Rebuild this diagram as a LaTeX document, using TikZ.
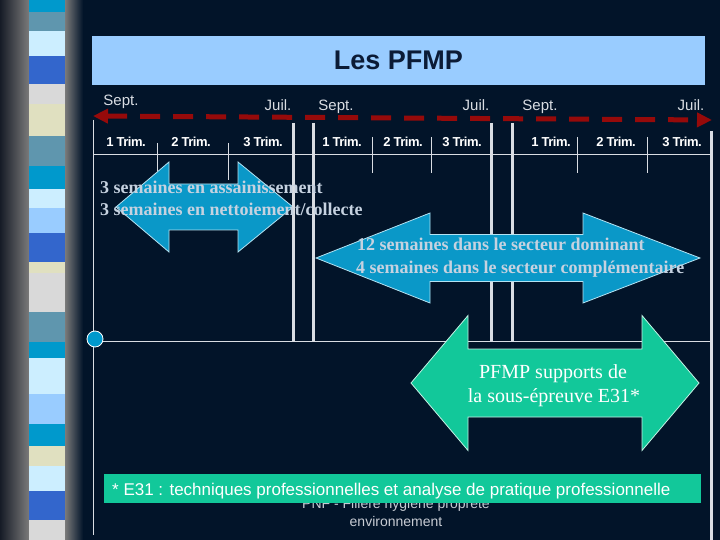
\documentclass[tikz,border=0pt]{standalone}
\usepackage{fontspec}
\setmainfont{Liberation Sans}
\newfontfamily\timesfnt{Liberation Serif}
\newfontfamily\trimfnt[LetterSpace=-4]{Liberation Sans}
\usepackage{tikz}
\usetikzlibrary{arrows.meta,positioning,calc}
\definecolor{bgN}{HTML}{021429}
\definecolor{sideD}{HTML}{161B26}
\definecolor{sideG}{HTML}{7A7A7A}
\definecolor{stA}{HTML}{0099CC}
\definecolor{stB}{HTML}{5F96AE}
\definecolor{stC}{HTML}{CCEEFF}
\definecolor{stD}{HTML}{3366CC}
\definecolor{stE}{HTML}{D9D9D9}
\definecolor{stF}{HTML}{E0E0C0}
\definecolor{stG}{HTML}{99CCFF}
\definecolor{titleC}{HTML}{99CCFF}
\definecolor{titleT}{HTML}{0B1B36}
\definecolor{redD}{HTML}{960A0A}
\definecolor{lineC}{HTML}{D9DDE3}
\definecolor{blueA}{HTML}{0A98C8}
\definecolor{blueO}{HTML}{B4E2F2}
\definecolor{greenA}{HTML}{12C89A}
\definecolor{greenO}{HTML}{C4F2E4}
\definecolor{weekC}{HTML}{C6D2E0}
\definecolor{footC}{HTML}{C8CCD4}
\newcommand\dblarrow[8]{% tipL, headL, headR, tipR, ymid, half shaft, half head, colour
  \filldraw[fill=#8A,draw=#8O,line width=0.8pt]
    (#1,#5) -- (#2,#5-#7) -- (#2,#5-#6) -- (#3,#5-#6) -- (#3,#5-#7) -- (#4,#5)
    -- (#3,#5+#7) -- (#3,#5+#6) -- (#2,#5+#6) -- (#2,#5+#7) -- cycle;}

\begin{document}
\begin{tikzpicture}[x=1pt,y=-1pt,every node/.style={inner sep=0pt},
  month/.style={font=\fontsize{15}{18}\selectfont,text=lineC,anchor=base},
  trim/.style={font=\trimfnt\bfseries\fontsize{13}{15}\selectfont,text=white,anchor=base},
  thinline/.style={lineC,line width=1pt},
  thickline/.style={lineC,line width=3pt},
  weeks/.style={font=\timesfnt\bfseries\fontsize{18}{21}\selectfont,text=weekC,anchor=base west},
  epreuve/.style={font=\timesfnt\fontsize{20}{24}\selectfont,text=white,anchor=base}]
  \fill[bgN] (0,0) rectangle (720,540);
  \useasboundingbox (0,0) rectangle (720,540);
  % left band
  \shade[left color=sideD,right color=sideG] (0,0) rectangle (29,540);
  \shade[left color=sideG,right color=bgN] (65,0) rectangle (83,540);
  \foreach \a/\b/\c in {0/12/stA,12/31/stB,31/56/stC,56/84/stD,84/104/stE,104/136/stF,
      136/166/stB,166/189/stA,189/208/stC,208/233/stG,233/262/stD,262/273/stF,
      273/312/stE,312/342/stB,342/358/stA,358/394/stC,394/424/stG,424/446/stA,
      446/466/stF,466/491/stC,491/520/stD,520/540/stE}{
    \fill[\c] (29,\a) rectangle (65,\b);
  }
  % title
  \node[fill=titleC,minimum width=613pt,minimum height=49pt,text=titleT,
    font=\bfseries\fontsize{27}{32}\selectfont] (title) at (398.5,60.5) {Les PFMP};
  % school years
  \coordinate (yL) at (93,116);
  \coordinate (yR) at (712,120);
  \draw[redD,line width=5pt,dash pattern=on 20pt off 13pt,
    {Triangle[length=15pt,width=14pt]}-{Triangle[length=15pt,width=14pt]}] (yL) -- (yR);
  \foreach \x/\y/\t [count=\i] in {121/106/Sept.,278/111/Juil.,336/111/Sept.,
      476/111/Juil.,540/111/Sept.,691/111/Juil.}{
    \node[month] (m\i) at (\x,\y) {\t};
  }
  \foreach \x/\t [count=\i] in {126/1,191/2,263/3,342/1,403/2,462/3,551/1,616/2,682/3}{
    \node[trim] (t\i) at (\x,147) {\t~Trim.};
  }
  % first arrow sits under the year lines
  \dblarrow{116}{169}{238}{293}{207}{23}{45}{blue}
  % grid
  \draw[thinline] (93,120) -- (93,535);
  \draw[thinline] (93,155) -- (710,155);
  \draw[thinline] (93,341) -- (710,341);
  \foreach \x/\a/\b in {157/143/171,228/143/180,372/137/173,431/137/173,577/137/173,647/137/173}{
    \draw[thinline] (\x,\a) -- (\x,\b);
  }
  \foreach \x in {293,313,491,512}{
    \draw[thickline] (\x,123) -- (\x,341);
  }
  \draw[thickline] (711,131) -- (711,540);
  \node[circle,fill=stA,draw=white,line width=0.8pt,minimum size=16pt] (start) at (95,339) {};
  % other arrows
  \dblarrow{316}{430}{583}{700}{258}{23.5}{45}{blue}
  \dblarrow{411}{468}{642}{699}{383}{34}{67.5}{green}
  % texts
  \node[weeks] (w1) at (100,194) {3 semaines en assainissement};
  \node[weeks] (w2) at (100,215) {3 semaines en nettoiement/collecte};
  \node[weeks] (w3) at (357,251) {12 semaines dans le secteur dominant};
  \node[weeks] (w4) at (356,273) {4 semaines dans le secteur complémentaire};
  \node[epreuve] (e1) at (553,378) {PFMP supports de};
  \node[epreuve] (e2) at (554,402) {la sous-épreuve E31*};
  % footer
  \node[font=\fontsize{14}{17}\selectfont,text=footC,anchor=base] (f1) at (396,508) {PNF - Filière hygiène propreté};
  \node[font=\fontsize{14}{17}\selectfont,text=footC,anchor=base] (f2) at (396,526) {environnement};
  \node[fill=greenA,minimum width=597pt,minimum height=29pt,anchor=north west] (note) at (104,474) {};
  \node[font=\fontsize{17}{20}\selectfont,text=white,anchor=base west] (notetext) at (112,495)
    {* E31 : techniques professionnelles et analyse de pratique professionnelle};
\end{tikzpicture}
\end{document}
